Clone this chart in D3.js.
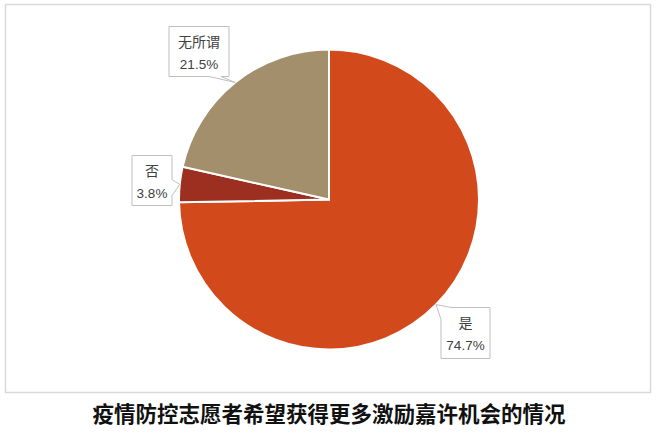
<!DOCTYPE html>
<html>
<head>
<meta charset="utf-8">
<script src="https://cdn.jsdelivr.net/npm/d3@7"></script>
<style>
  body { margin: 0; background: #fff; }
  text { font-family: "Liberation Sans", "Noto Sans CJK SC", sans-serif; }
</style>
</head>
<body>
<svg width="660" height="437"></svg>
<script>
// 数据
const categories = ['是', '否', '无所谓'];
const values = [74.7, 3.8, 21.5];
const colors = ['#d24a1b', '#9d2f20', '#a38f6b'];
const title = '疫情防控志愿者希望获得更多激励嘉许机会的情况';

const svg = d3.select('svg');
const cx = 329, cy = 199.5, r = 150;

// 外框
svg.append('rect')
  .attr('x', 5.5).attr('y', 4.5)
  .attr('width', 645).attr('height', 388)
  .attr('fill', 'none')
  .attr('stroke', '#d9d9d9')
  .attr('stroke-width', 1.5);

const pie = d3.pie().sort(null).value((d) => d.v);
const arcs = pie(categories.map((c, i) => ({ c, v: values[i], color: colors[i] })));
const arc = d3.arc().innerRadius(0).outerRadius(r);
const edge = d3.arc().innerRadius(r).outerRadius(r);

const g = svg.append('g').attr('transform', `translate(${cx},${cy})`);

g.selectAll('path')
  .data(arcs)
  .join('path')
  .attr('d', arc)
  .attr('fill', (d) => d.data.color)
  .attr('stroke', '#fff')
  .attr('stroke-width', 2);

// 标签框 (相对圆心的位置)
const boxes = [
  { x: 112, y: 108, w: 49, h: 51, side: 'tl' },
  { x: -197, y: -44, w: 40, h: 50, side: 'r' },
  { x: -160, y: -173, w: 60, h: 50, side: 'b' }
];

arcs.forEach((d, i) => {
  const b = boxes[i];
  const [tx, ty] = edge.centroid(d);
  let p;
  if (b.side === 'b') {
    const y = b.y + b.h;
    p = [[b.x, b.y], [b.x + b.w, b.y], [b.x + b.w, y], [b.x + b.w - 8, y], [tx, ty],
         [b.x + b.w - 20, y], [b.x, y]];
  } else if (b.side === 'r') {
    const x = b.x + b.w;
    p = [[b.x, b.y], [x, b.y], [x, b.y + 24], [tx, ty], [x, b.y + 40],
         [x, b.y + b.h], [b.x, b.y + b.h]];
  } else {
    p = [[b.x, b.y + 12], [tx, ty], [b.x + 10, b.y], [b.x + b.w, b.y],
         [b.x + b.w, b.y + b.h], [b.x, b.y + b.h]];
  }
  g.append('path')
    .attr('d', d3.line()(p) + 'Z')
    .attr('fill', '#fff')
    .attr('stroke', '#bfbfbf')
    .attr('stroke-width', 1);
  g.append('text')
    .attr('x', b.x + b.w / 2).attr('y', b.y + 20)
    .attr('text-anchor', 'middle')
    .attr('font-size', 14).attr('fill', '#404040')
    .text(d.data.c);
  g.append('text')
    .attr('x', b.x + b.w / 2).attr('y', b.y + 42)
    .attr('text-anchor', 'middle')
    .attr('font-size', 13.5).attr('fill', '#404040')
    .text(d.data.v.toFixed(1) + '%');
});

svg.append('text')
  .attr('x', 329).attr('y', 422)
  .attr('text-anchor', 'middle')
  .attr('font-size', 21.5).attr('font-weight', 'bold')
  .attr('fill', '#111')
  .style('font-family', '"Noto Sans CJK SC", sans-serif')
  .text(title);
</script>
</body>
</html>
